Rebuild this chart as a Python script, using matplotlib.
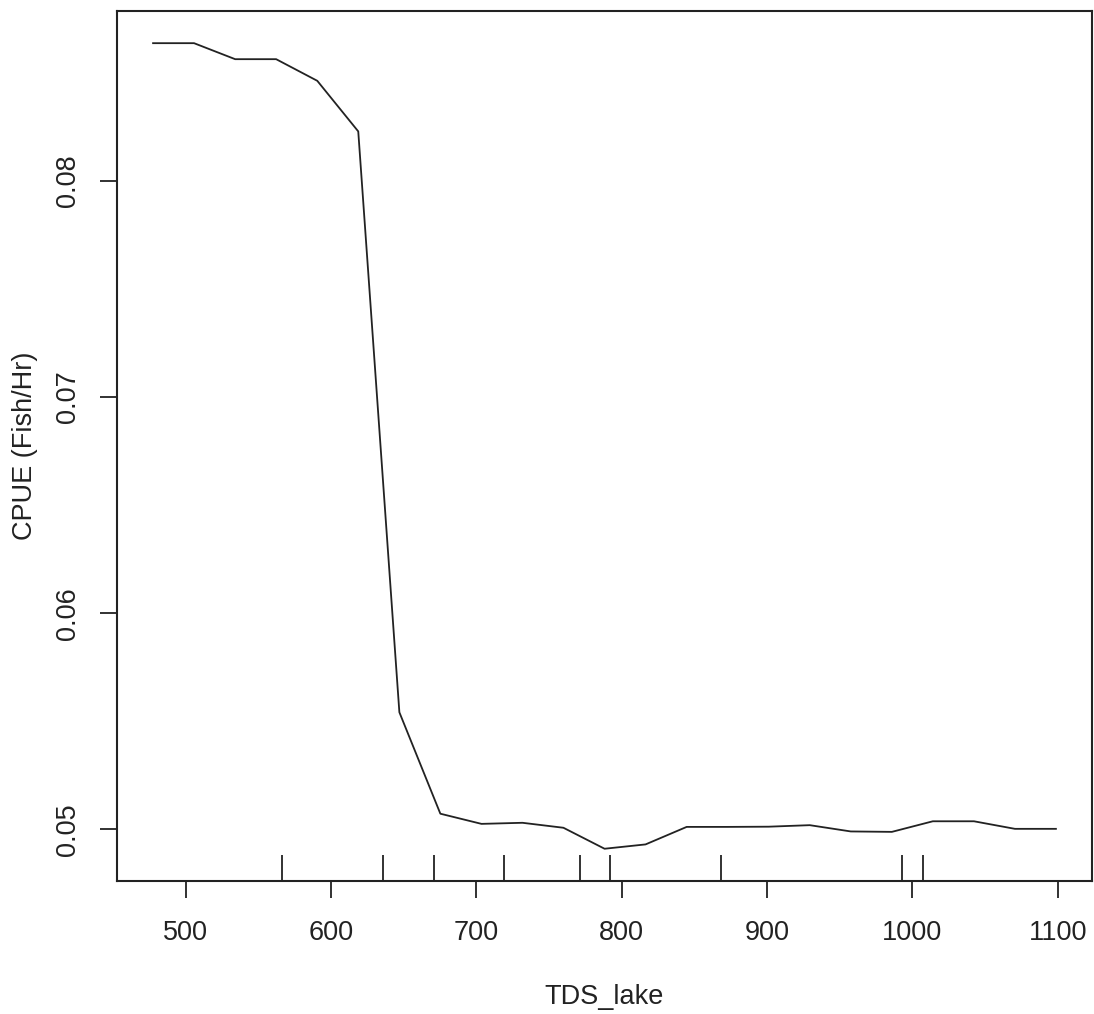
import matplotlib

matplotlib.use("Agg")
import matplotlib.pyplot as plt

plt.rcParams["font.family"] = ["Liberation Sans", "DejaVu Sans"]

# partial dependence of CPUE on lake TDS
tds = [477.5, 505.7, 534.0, 562.2, 590.5, 618.7, 647.0, 675.2, 703.5, 731.7,
       759.9, 788.2, 816.4, 844.7, 872.9, 901.2, 929.4, 957.6, 985.9, 1014.1,
       1042.4, 1070.6, 1098.8]
cpue = [0.08636, 0.08636, 0.08562, 0.08562, 0.08462, 0.08228, 0.05542, 0.05073,
        0.05026, 0.05031, 0.05008, 0.04911, 0.04931, 0.05012, 0.05012, 0.05013,
        0.05020, 0.04991, 0.04989, 0.05038, 0.05038, 0.05003, 0.05003]

# deciles of the predictor (rug marks)
rug_x = [566, 636, 671, 719, 771, 792, 868, 993, 1007]

x_ticks = [500, 600, 700, 800, 900, 1000, 1100]
y_ticks = [0.05, 0.06, 0.07, 0.08]


def padded(vals, frac=0.04):
    lo, hi = min(vals), max(vals)
    d = (hi - lo) * frac
    return lo - d, hi + d


fig = plt.figure(figsize=(10.94, 10.14), dpi=100)
ax = fig.add_axes([0.1069, 0.1312, 0.8913, 0.858])

ax.plot(tds, cpue, color="#222222", lw=1.3)
ax.vlines(rug_x, 0, 0.03, transform=ax.get_xaxis_transform(),
          color="#222222", lw=1.3)

ax.set_xlim(*padded(tds))
ax.set_ylim(*padded(cpue))

ax.set_xticks(x_ticks, [str(v) for v in x_ticks])
ax.set_yticks(y_ticks, [f"{v:.2f}" for v in y_ticks])
ax.tick_params(direction="out", length=12, width=1.3, labelsize=19.5,
               color="#222222", labelcolor="#222222", pad=14)
ax.tick_params(axis="x", pad=16)
for lab in ax.get_yticklabels():
    lab.set_rotation(90)
    lab.set_va("center")

for s in ax.spines.values():
    s.set_linewidth(1.5)
    s.set_color("#222222")

ax.set_xlabel("TDS_lake", fontsize=19.5, color="#222222")
ax.xaxis.set_label_coords(0.5, -0.118)
ax.set_ylabel("CPUE (Fish/Hr)", fontsize=19.5, color="#222222")
ax.yaxis.set_label_coords(-0.094, 0.5)
ax.yaxis.label.set_va("center")

fig.savefig("out.png", dpi=100)
